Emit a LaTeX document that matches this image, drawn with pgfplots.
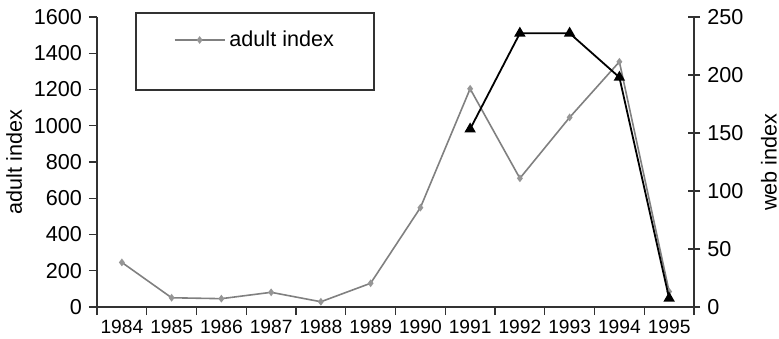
\documentclass[border=0pt]{standalone}
\usepackage{fontspec}
\setmainfont{Liberation Sans}
\usepackage{pgfplots}
\pgfplotsset{compat=1.18}
\definecolor{adultc}{RGB}{128,128,128}
\definecolor{adultm}{RGB}{150,150,150}
\definecolor{axc}{RGB}{50,50,50}
\begin{document}
\begin{tikzpicture}
\useasboundingbox (0,0) rectangle (389.5pt,169pt);
\pgfplotsset{
 common/.style={
  at={(48.5pt,15.5pt)}, anchor=south west,
  scale only axis, width=298.5pt, height=145pt,
  xmin=-0.5, xmax=11.5,
  axis line style={axc, line width=0.6pt},
  tick style={axc, line width=0.6pt},
  tick label style={font=\fontsize{10.8}{12}\selectfont},
  label style={font=\fontsize{10.8}{12}\selectfont},
  /pgf/number format/assume math mode=true,
  /pgf/number format/1000 sep={},
  clip=false,
 },
 adult/.style={adultc, line width=0.8pt, mark=diamond*, mark size=1.3pt, mark options={adultm, fill=adultm}},
 web/.style={black, line width=0.9pt, mark=triangle*, mark size=2.4pt, mark options={black, fill=black}},
}
\begin{axis}[common,
  axis x line*=bottom, axis y line*=left,
  ymin=0, ymax=1600, ytick={0,200,...,1600},
  xtick={-0.5,0.5,...,11.5},
  x tick label as interval,
  xticklabels={1984,1985,1986,1987,1988,1989,1990,1991,1992,1993,1994,1995},
  x tick label style={font=\fontsize{9.6}{10}\selectfont, yshift=1pt},
  tick align=outside,
  major tick length=4pt,
  ylabel={adult index},
  ylabel style={xshift=0pt, yshift=-1pt},
]
\addplot[adult] coordinates {
(0,246) (1,51) (2,46) (3,81) (4,29) (5,131) (6,548) (7,1204) (8,710) (9,1046) (10,1353) (11,85)
};
\end{axis}
\begin{axis}[common,
  axis x line=none, axis y line*=right,
  ymin=0, ymax=250, ytick={0,50,...,250},
  tick align=center, major tick length=6.2pt,
  ylabel={web index},
  ylabel style={yshift=-2pt},
  legend style={draw=none, fill=none, at={(rel axis cs:0.118,0.9207)}, anchor=west,
    font=\fontsize{10.8}{12}\selectfont},
  legend image code/.code={\draw[mark repeat=2,mark phase=2] plot coordinates {(0pt,0pt) (12.5pt,0pt) (25pt,0pt)};},
]
\addlegendimage{adult}
\addlegendentry{adult index}
\addplot[web, forget plot] coordinates {
(7,153.4) (8,236) (9,236) (10,198) (11,7.5)
};
\draw[axc, line width=0.6pt] (rel axis cs:0.0653,1.0138) rectangle (rel axis cs:0.4640,0.7483);
\end{axis}
\end{tikzpicture}
\end{document}
